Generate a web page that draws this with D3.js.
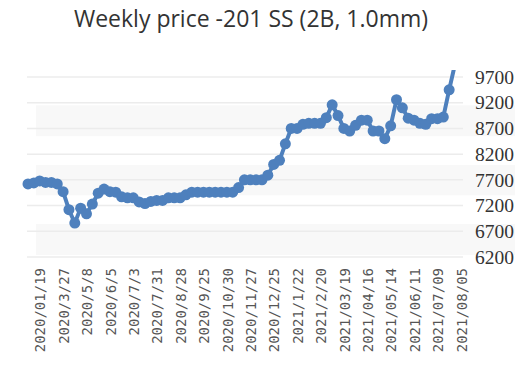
<!DOCTYPE html>
<html>
<head>
<meta charset="utf-8">
<script src="https://cdn.jsdelivr.net/npm/d3@7"></script>
<style>
  body { margin: 0; background: #fff; }
</style>
</head>
<body>
<div id="chart"></div>
<script>
const title = "Weekly price -201 SS (2B, 1.0mm)";

// one value per week (category index)
const prices = [
  7620, 7640, 7680, 7650, 7650, 7620, 7470, 7120, 6860, 7150,
  7040, 7230, 7440, 7520, 7470, 7460, 7370, 7350, 7350, 7270,
  7240, 7280, 7300, 7300, 7350, 7350, 7350, 7410, 7460, 7460,
  7460, 7460, 7460, 7460, 7460, 7460, 7550, 7700, 7700, 7700,
  7700, 7790, 8000, 8080, 8400, 8700, 8700, 8780, 8800, 8800,
  8800, 8910, 9160, 8950, 8700, 8650, 8760, 8860, 8860, 8650,
  8650, 8500, 8750, 9260, 9100, 8900, 8860, 8800, 8780, 8890,
  8890, 8920, 9450, 9950
];

// shown on every 4th category
const tickLabels = [
  "2020/01/19", "2020/3/27", "2020/5/8", "2020/6/5", "2020/7/3",
  "2020/7/31", "2020/8/28", "2020/9/25", "2020/10/30", "2020/11/27",
  "2020/12/25", "2021/1/22", "2021/2/20", "2021/03/19", "2021/04/16",
  "2021/05/14", "2021/06/11", "2021/07/09", "2021/08/05"
];

const yTicks = [6200, 6700, 7200, 7700, 8200, 8700, 9200, 9700];
const bands = [[9150, 8550], [7990, 7400], [6840, 6240]];

const width = 532, height = 388;
const color = "#4e80bd";

const svg = d3.select("#chart").append("svg")
  .attr("width", width)
  .attr("height", height);

const x = d3.scalePoint()
  .domain(d3.range(prices.length))
  .range([28, 455]);

const y = d3.scaleLinear()
  .domain([6200, 9700])
  .range([257, 77]);

svg.append("text")
  .attr("x", 251)
  .attr("y", 27)
  .attr("text-anchor", "middle")
  .style("font", "23px 'Open Sans', sans-serif")
  .attr("fill", "#333")
  .text(title);

// background bands
svg.append("g")
  .selectAll("rect")
  .data(bands)
  .join("rect")
  .attr("x", 36)
  .attr("width", 515 - 36)
  .attr("y", d => y(d[0]))
  .attr("height", d => y(d[1]) - y(d[0]))
  .attr("fill", "#f8f8f8");

// grid
svg.append("g")
  .selectAll("line")
  .data(yTicks)
  .join("line")
  .attr("x1", 27)
  .attr("x2", 463)
  .attr("y1", d => y(d))
  .attr("y2", d => y(d))
  .attr("stroke", "#ececec")
  .attr("stroke-width", 1.5);

// y axis on the right
const yAxis = svg.append("g")
  .attr("transform", "translate(463,0)")
  .call(d3.axisRight(y).tickValues(yTicks).tickFormat(d3.format("d")).tickSize(0).tickPadding(12));
yAxis.select(".domain").remove();
yAxis.attr("font-family", null).attr("font-size", null);
yAxis.selectAll("text")
  .attr("font-family", "'Liberation Serif', serif")
  .attr("font-size", 19.5)
  .attr("fill", "#333");

// x labels
svg.append("g")
  .selectAll("text")
  .data(tickLabels)
  .join("text")
  .attr("transform", (d, i) => `translate(${x(i * 4) + 12.5},268) rotate(-90)`)
  .attr("text-anchor", "end")
  .attr("dy", "0.35em")
  .style("font", "14px 'DejaVu Sans Mono', monospace")
  .attr("fill", "#555")
  .text(d => d);

svg.append("clipPath")
  .attr("id", "clip")
  .append("rect")
  .attr("x", 0)
  .attr("y", 70)
  .attr("width", width)
  .attr("height", 200);

const plot = svg.append("g").attr("clip-path", "url(#clip)");

plot.append("path")
  .datum(prices)
  .attr("fill", "none")
  .attr("stroke", color)
  .attr("stroke-width", 4)
  .attr("stroke-linejoin", "round")
  .attr("d", d3.line().x((d, i) => x(i)).y(d => y(d)));

plot.append("g")
  .selectAll("circle")
  .data(prices)
  .join("circle")
  .attr("cx", (d, i) => x(i))
  .attr("cy", d => y(d))
  .attr("r", 5.5)
  .attr("fill", color);
</script>
</body>
</html>
